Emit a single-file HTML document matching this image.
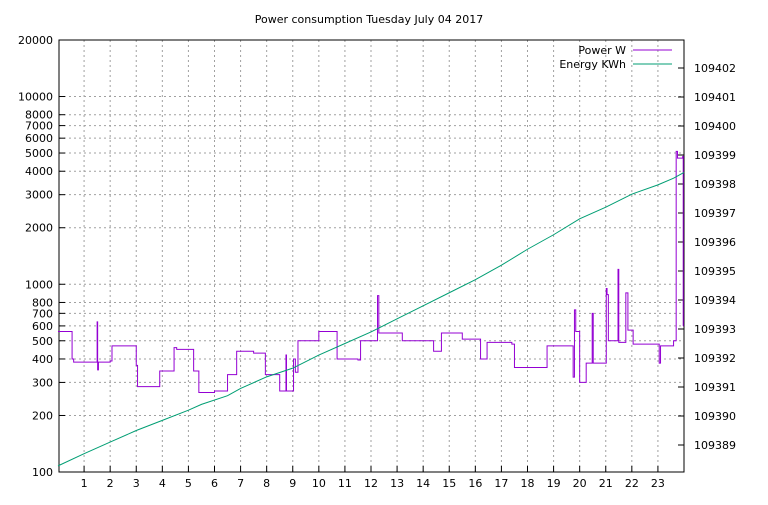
<!DOCTYPE html>
<html><head><meta charset="utf-8"><style>
body{margin:0;background:#fff}
svg text{font-family:"DejaVu Sans","Liberation Sans",sans-serif;font-size:11px;fill:#000}
</style></head><body>
<svg id="c" width="768" height="500" xmlns="http://www.w3.org/2000/svg">
<rect width="768" height="500" fill="#fff"/>
<text x="369" y="23" text-anchor="middle">Power consumption Tuesday July 04 2017</text>
<g id="grid"></g><g id="axes"></g><g id="series"></g>
<g>
<text x="626" y="54" text-anchor="end">Power W</text>
<line x1="633" y1="50" x2="672" y2="50" stroke="#9400d3"/>
<text x="626" y="68" text-anchor="end">Energy KWh</text>
<line x1="633" y1="64" x2="672" y2="64" stroke="#009e73"/>
</g>
</svg>
<script>
const xTicks=[1,2,3,4,5,6,7,8,9,10,11,12,13,14,15,16,17,18,19,20,21,22,23];
const leftTicks=[100,200,300,400,500,600,700,800,1000,2000,3000,4000,5000,6000,7000,8000,10000,20000];
const rightTicks=[109389,109390,109391,109392,109393,109394,109395,109396,109397,109398,109399,109400,109401,109402];
const powerHours=[0,0.54,0.6,1.48,1.5,1.52,1.55,2.0,2.07,3.0,3.03,3.05,3.9,4.45,4.55,5.2,5.3,5.4,6.0,6.5,6.85,7.5,7.95,8.5,8.74,8.76,8.8,9.03,9.1,9.2,10.0,10.7,10.8,11.5,11.6,12.2,12.25,12.3,13.2,14.4,14.7,15.5,16.2,16.4,16.45,17.4,17.5,18.75,19.7,19.75,19.8,19.85,20.0,20.2,20.25,20.48,20.52,21.0,21.02,21.05,21.1,21.44,21.47,21.5,21.74,21.77,21.85,22.05,23.0,23.05,23.1,23.6,23.7,23.75,23.95,23.97];
const powerValues=[560,400,385,385,630,350,385,390,470,370,370,285,345,460,450,345,345,265,270,330,440,430,330,270,420,270,270,400,340,500,560,400,400,395,500,500,870,550,500,440,550,510,400,400,490,480,360,470,470,320,730,560,300,300,380,700,380,380,950,880,500,500,1200,490,490,900,570,480,480,380,470,500,5100,4700,4800,600];
const energyHours=[0,1,2,3,4,5,5.5,6.5,7,8,9,10,11,12,13,14,15,16,17,18,19,20,21,22,23,23.6,24];
const energyValues=[109388.28,109388.7,109389.1,109389.5,109389.85,109390.2,109390.4,109390.7,109390.95,109391.35,109391.65,109392.1,109392.5,109392.9,109393.35,109393.8,109394.25,109394.7,109395.2,109395.75,109396.25,109396.8,109397.2,109397.65,109397.97,109398.2,109398.4];
const L=59,R=684,T=40,B=472,NS="http://www.w3.org/2000/svg";
const xS=h=>58+h*(R-58)/24;
const yP=v=>B-(Math.log10(v)-2)*(B-T)/Math.log10(200);
const yE=v=>445-(v-109389)*29;
function mk(tag,attrs,parent){const e=document.createElementNS(NS,tag);for(const k in attrs)e.setAttribute(k,attrs[k]);document.getElementById(parent).appendChild(e);return e;}
for(const h of xTicks){
 const g=mk('line',{x1:xS(h),x2:xS(h),y1:T,y2:B,stroke:'#a0a0a0','stroke-dasharray':'2,3'},'grid');
 
 
 const t=mk('line',{x1:xS(h),x2:xS(h),y1:B,y2:B-6,stroke:'#000'},'axes');
 
 
 const lb=mk('text',{x:xS(h),y:B+15,'text-anchor':'middle'},'axes');lb.textContent=h;
 
 
}
for(const v of leftTicks){
 const y=yP(v);
 if(v>100&&v<20000){const g=mk('line',{x1:L,x2:R,y1:y,y2:y,stroke:'#a0a0a0','stroke-dasharray':'2,3'},'grid');
 
 }
 const t=mk('line',{x1:L,x2:L+6,y1:y,y2:y,stroke:'#000'},'axes');
 
 
 const lb=mk('text',{x:L-6,y:y+4,'text-anchor':'end'},'axes');lb.textContent=v;
 
 
}
for(const v of rightTicks){
 const y=yE(v);
 const t=mk('line',{x1:R,x2:R-6,y1:y,y2:y,stroke:'#000'},'axes');
 
 
 const lb=mk('text',{x:R+10,y:y+4},'axes');lb.textContent=v;
 
 
}
const fr=mk('rect',{x:L,y:T,width:R-L,height:B-T,fill:'none',stroke:'#000'},'axes');


let d='';
for(let i=0;i<powerHours.length;i++){
 const x=xS(powerHours[i]),y=yP(powerValues[i]);
 if(i===0)d+=`M${x},${y}`;else d+=`V${y}`;
 const nx=i+1<powerHours.length?xS(powerHours[i+1]):xS(24)-1;d+=`H${nx}`;
}
const pp=mk('path',{d:d,fill:'none',stroke:'#9400d3','stroke-width':1},'series');


const ep=mk('polyline',{points:energyHours.map((h,i)=>`${xS(h)},${yE(energyValues[i])}`).join(' '),fill:'none',stroke:'#009e73','stroke-width':1},'series');


</script>
</body></html>
